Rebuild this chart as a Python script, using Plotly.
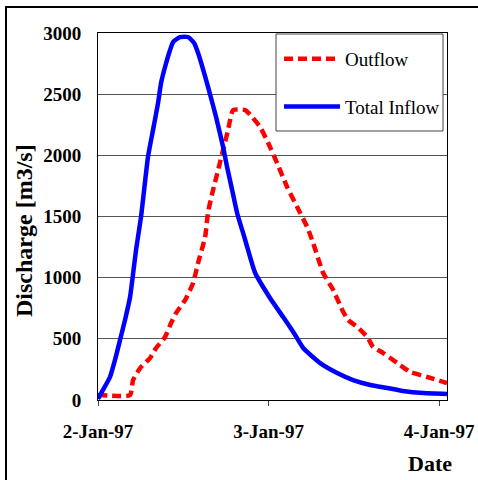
import pandas as pd
import plotly.graph_objects as go

base = pd.Timestamp("1997-01-02 00:00")

inflow_hours = [0, 0.7, 1.69, 2.39, 3.1, 3.8, 4.51, 4.93, 5.35, 6.05, 7.04, 7.74, 8.45, 8.87,
                9.43, 10.14, 10.56, 11.55, 12.67, 13.52, 14.08, 15.49, 16.61, 17.6, 18.16,
                18.87, 19.57, 20.28, 20.7, 22.1, 24.2, 26.05, 27.74, 28.87, 31.26, 33.65,
                35.9, 38.3, 40.7, 42.9, 45.8, 49.1]
inflow_vals = [10, 82, 188, 327, 490, 654, 842, 1030, 1226, 1496, 1990, 2207, 2428, 2591,
               2722, 2861, 2926, 2967, 2967, 2918, 2836, 2558, 2313, 2068, 1905,
               1717, 1529, 1390, 1310, 1040, 834, 678, 531, 425, 302, 221,
               163, 123, 98, 74, 57, 50]

outflow_hours = [0, 4.51, 4.93, 6.05, 7.32, 8.17, 9.43, 10.28, 10.98, 12.25, 13.38, 14.08,
                 15.07, 15.49, 16.19, 16.9, 17.6, 18.3, 19.01, 20.7, 21.68, 22.81, 23.94,
                 25.2, 26.61, 28.02, 29.43, 30.27, 31.68, 33.09, 34.36, 35.2, 36.47, 37.88,
                 38.72, 40.13, 42.1, 43.93, 46.32, 49.1]
outflow_vals = [41, 41, 163, 270, 343, 425, 515, 629, 711, 817, 956, 1120,
                1332, 1537, 1717, 1880, 2043, 2207, 2370, 2370, 2313, 2232, 2101,
                1937, 1741, 1578, 1414, 1283, 1038, 899, 736, 654, 597, 515,
                433, 384, 302, 229, 188, 139]

tick_dates = ["1997-01-02", "1997-01-03", "1997-01-04"]
tick_labels = ["2-Jan-97", "3-Jan-97", "4-Jan-97"]
y_ticks = [0, 500, 1000, 1500, 2000, 2500, 3000]

x_in = [base + pd.Timedelta(hours=h) for h in inflow_hours]
x_out = [base + pd.Timedelta(hours=h) for h in outflow_hours]

FONT = "Liberation Serif"
W, H = 349, 367  # plot area size in px


def px(x):
    return (x - 98) / W


def py(y):
    return (400 - y) / H


fig = go.Figure()
fig.add_trace(go.Scatter(x=x_out, y=outflow_vals, mode="lines", name="Outflow",
                         line=dict(color="#ff0000", width=4.5, dash="9px,5px",
                                   shape="spline", smoothing=0.5),
                         legendgroup="a"))
fig.add_trace(go.Scatter(x=x_in, y=inflow_vals, mode="lines", name="Total Inflow",
                         line=dict(color="#0000ff", width=4.5,
                                   shape="spline", smoothing=0.5),
                         legendgroup="b"))

fig.update_layout(
    width=478, height=480,
    margin=dict(l=98, r=31, t=33, b=80),
    paper_bgcolor="white", plot_bgcolor="white",
    showlegend=True,
    legend=dict(x=px(279), y=py(40), xanchor="left", yanchor="top",
                bgcolor="rgba(0,0,0,0)", borderwidth=0,
                font=dict(family=FONT, size=19, color="black"),
                tracegroupgap=20, traceorder="grouped", itemwidth=56),
    xaxis=dict(range=[base, base + pd.Timedelta(hours=49.1)],
               tickvals=tick_dates, ticktext=tick_labels,
               ticks="outside", ticklen=5, tickcolor="#444",
               tickfont=dict(family=FONT, size=19, color="black", weight="bold"),
               showgrid=False, showline=True, linecolor="black", linewidth=1,
               mirror=True, zeroline=False, ticklabelstandoff=9, automargin=False),
    yaxis=dict(range=[0, 3000], tickvals=y_ticks,
               ticks="", tickfont=dict(family=FONT, size=19, color="black", weight="bold"),
               showgrid=True, gridcolor="#555", gridwidth=1,
               showline=True, linecolor="black", linewidth=1, mirror=True,
               zeroline=False, ticklabelstandoff=12, automargin=False),
    annotations=[
        dict(text="<b>Discharge [m3/s]</b>", xref="paper", yref="paper",
             x=px(24), y=py(231), showarrow=False, textangle=-90,
             font=dict(family=FONT, size=24, color="black"),
             xanchor="center", yanchor="middle"),
        dict(text="<b>Date</b>", xref="paper", yref="paper",
             x=px(430), y=py(464), showarrow=False,
             font=dict(family=FONT, size=22, color="black"),
             xanchor="center", yanchor="middle"),
    ],
    shapes=[
        dict(type="rect", xref="paper", yref="paper",
             x0=px(6), x1=px(485), y0=py(490), y1=py(7),
             line=dict(color="black", width=2), fillcolor="rgba(0,0,0,0)",
             layer="below"),
        dict(type="rect", xref="paper", yref="paper",
             x0=px(276), x1=px(443), y0=py(131), y1=py(34),
             line=dict(color="#444", width=1), fillcolor="white",
             layer="above"),
    ],
)

fig.write_html("out.html", config={"displayModeBar": False},
               post_script="document.body.style.margin='0';")
